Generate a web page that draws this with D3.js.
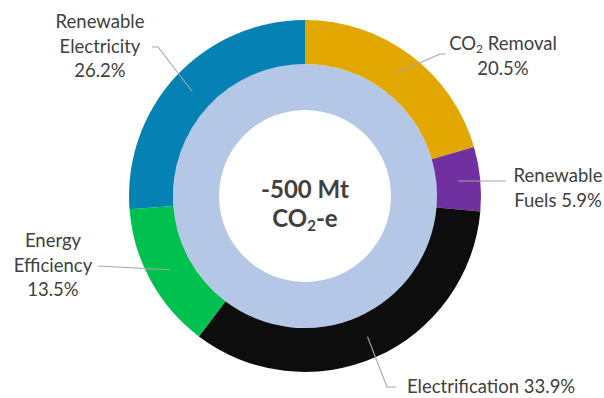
<!DOCTYPE html>
<html>
<head>
<meta charset="utf-8">
<script src="https://cdn.jsdelivr.net/npm/d3@7"></script>
<style>
  html, body { margin: 0; padding: 0; background: #fff; }
  svg { display: block; }
  text { font-family: Lato, "Open Sans", sans-serif; fill: #404040; }
</style>
</head>
<body>
<svg id="chart" width="604" height="398"></svg>
<script>
// Abatement shares by measure, clockwise from 12 o'clock
const categories = ["CO2 Removal", "Renewable Fuels", "Electrification", "Energy Efficiency", "Renewable Electricity"];
const shares = [20.5, 5.9, 33.9, 13.5, 26.2];
const colors = ["#E2A700", "#7030A0", "#0D0D0D", "#00C050", "#0581B4"];
const totalLabel = ["-500 Mt", "CO2-e"];

const cx = 305, cy = 196;
const rOuter = 176, rRingInner = 132, rCore = 86;

const svg = d3.select("#chart");
const g = svg.append("g").attr("transform", `translate(${cx},${cy})`);

// Inner light-blue band
g.append("path")
  .attr("d", d3.arc().innerRadius(rCore).outerRadius(rRingInner).startAngle(0).endAngle(2 * Math.PI)())
  .attr("fill", "#B4C7E7");

const pie = d3.pie().sort(null).value(d => d.value);
const arcs = pie(categories.map((c, i) => ({ name: c, value: shares[i], color: colors[i] })));
const arc = d3.arc().innerRadius(rRingInner).outerRadius(rOuter);
const mid = d3.arc().innerRadius(154).outerRadius(154);

g.selectAll("path.slice")
  .data(arcs)
  .join("path")
  .attr("class", "slice")
  .attr("d", arc)
  .attr("fill", d => d.data.color);

// Label placement: text lines, anchor, and leader bend points (page coordinates)
const labelLayout = {
  "Renewable Electricity": { x: 100, y: 28, anchor: "middle", lines: ["Renewable", "Electricity", "{v}"], path: [[158, 47], [152, 47]] },
  "CO2 Removal": { x: 503, y: 50, anchor: "middle", lines: ["CO\u2082 Removal", "{v}"], path: [[440, 54], [446, 54]] },
  "Renewable Fuels": { x: 558, y: 182, anchor: "middle", lines: ["Renewable", "Fuels {v}"], path: [[506, null]] },
  "Energy Efficiency": { x: 53, y: 247, anchor: "middle", lines: ["Energy", "Efficiency", "{v}"], path: [[98, 266]] },
  "Electrification": { x: 407, y: 393, anchor: "start", lines: ["Electrification {v}"], path: [[387, 387], [396, 387]] }
};

const lineH = 24.5;
const labelSize = 18.5;
const labels = svg.append("g");

arcs.forEach(d => {
  const L = labelLayout[d.data.name];
  const c = mid.centroid(d);
  const start = [cx + c[0], cy + c[1]];
  const pts = [start].concat(L.path.map(p => [p[0], p[1] === null ? start[1] : p[1]]));
  labels.append("path")
    .attr("d", d3.line()(pts))
    .attr("fill", "none")
    .attr("stroke", "#A6A6A6")
    .attr("stroke-width", 1.1);

  const pct = d.data.value.toFixed(1) + "%";
  L.lines.forEach((ln, i) => {
    const t = labels.append("text")
      .attr("x", L.x)
      .attr("y", L.y + i * lineH)
      .attr("text-anchor", L.anchor)
      .attr("font-size", labelSize);
    const s = ln.replace("{v}", pct);
    const k = s.indexOf("\u2082");
    if (k >= 0) {
      t.append("tspan").text(s.slice(0, k));
      t.append("tspan").attr("font-size", 12).attr("dy", 3).text("2");
      t.append("tspan").attr("dy", -3).text(s.slice(k + 1));
    } else {
      t.text(s);
    }
  });
});

// Total in the centre
const center = svg.append("g");
center.append("text")
  .attr("x", cx).attr("y", 198)
  .attr("text-anchor", "middle")
  .attr("font-size", 24)
  .style("font-weight", "bold")
  .text(totalLabel[0]);
const co = center.append("text")
  .attr("x", cx).attr("y", 227)
  .attr("text-anchor", "middle")
  .attr("font-size", 24)
  .style("font-weight", "bold");
co.append("tspan").text("CO");
co.append("tspan").attr("font-size", 15).attr("dy", 4).text("2");
co.append("tspan").attr("dy", -4).text("-e");
</script>
</body>
</html>
